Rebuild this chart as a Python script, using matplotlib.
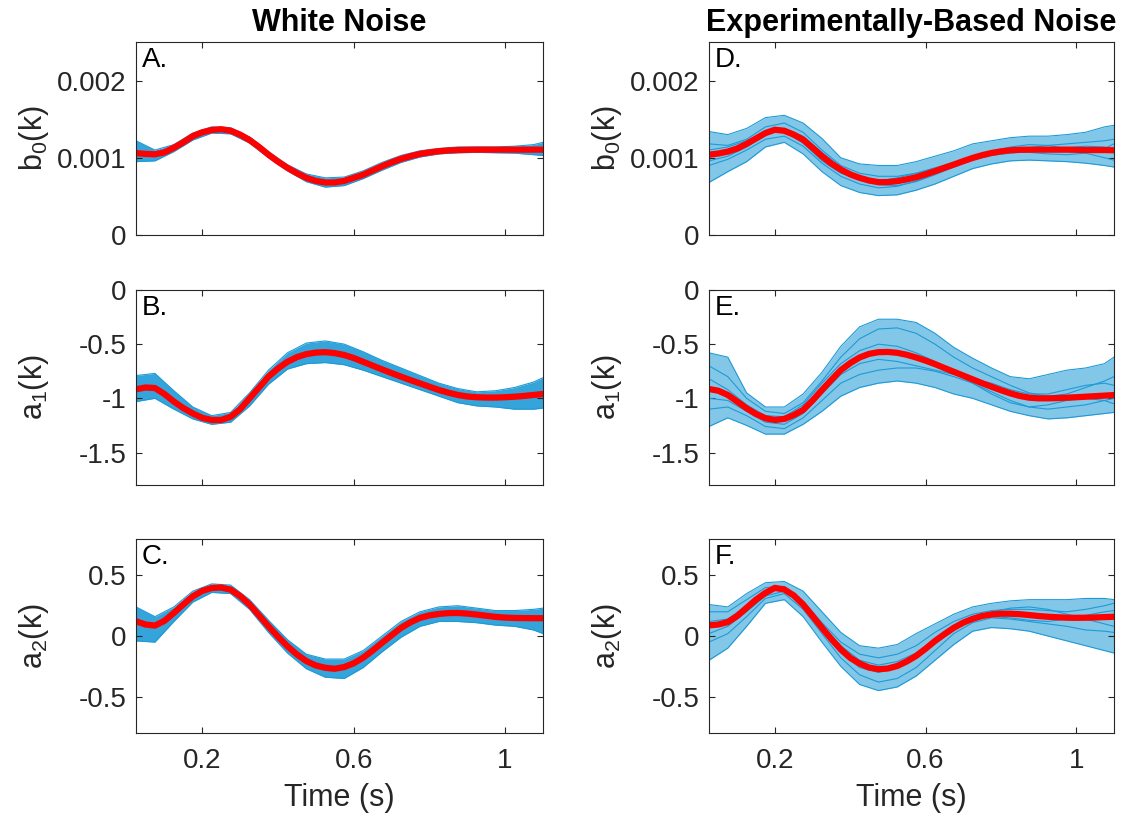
import numpy as np
import matplotlib
matplotlib.use("Agg")
import matplotlib.pyplot as plt

plt.rcParams['font.family'] = ['Liberation Sans', 'DejaVu Sans']
plt.rcParams['mathtext.fontset'] = 'custom'
plt.rcParams['mathtext.rm'] = 'Liberation Sans'
plt.rcParams['mathtext.it'] = 'Liberation Sans:italic'
plt.rcParams['mathtext.default'] = 'regular'
plt.rcParams['axes.unicode_minus'] = False

# coarse time grid (s) for the noisy estimates
t = [0.025, 0.075, 0.125, 0.175, 0.225, 0.275, 0.325, 0.375, 0.425, 0.475, 0.525, 0.575,
     0.625, 0.675, 0.725, 0.775, 0.825, 0.875, 0.925, 0.975, 1.025, 1.075, 1.1]
# fine time grid (s) for the true coefficients
tf = [0.025, 0.05, 0.075, 0.1, 0.125, 0.15, 0.175, 0.2, 0.225, 0.25, 0.275, 0.3,
      0.325, 0.35, 0.375, 0.4, 0.425, 0.45, 0.475, 0.5, 0.525, 0.55, 0.575, 0.6,
      0.625, 0.65, 0.675, 0.7, 0.725, 0.75, 0.775, 0.8, 0.825, 0.85, 0.875, 0.9,
      0.925, 0.95, 0.975, 1.0, 1.025, 1.05, 1.075, 1.1]

# --- White noise ---
# b0 (x1e-3)
a_red = [1.06, 1.05, 1.045, 1.07, 1.13, 1.20, 1.28, 1.33, 1.36, 1.37, 1.35, 1.30,
         1.23, 1.14, 1.04, 0.95, 0.87, 0.80, 0.74, 0.70, 0.68, 0.68, 0.70, 0.74,
         0.78, 0.835, 0.89, 0.94, 0.985, 1.02, 1.05, 1.07, 1.085, 1.095, 1.10, 1.103,
         1.105, 1.105, 1.105, 1.105, 1.105, 1.105, 1.105, 1.105]
a_hi = [1.22, 1.10, 1.17, 1.32, 1.40, 1.39, 1.27, 1.08, 0.91, 0.79, 0.74, 0.75,
        0.83, 0.94, 1.03, 1.09, 1.12, 1.14, 1.14, 1.14, 1.15, 1.17, 1.20]
a_lo = [0.95, 0.96, 1.08, 1.23, 1.32, 1.31, 1.19, 1.00, 0.83, 0.69, 0.62, 0.64,
        0.73, 0.84, 0.94, 1.01, 1.05, 1.065, 1.07, 1.065, 1.06, 1.04, 1.03]
# a1
b_red = [-0.917, -0.900, -0.905, -0.96, -1.03, -1.09, -1.14, -1.18, -1.20, -1.20, -1.17, -1.10,
         -1.00, -0.90, -0.80, -0.725, -0.663, -0.62, -0.592, -0.578, -0.574, -0.583, -0.60, -0.628,
         -0.663, -0.698, -0.733, -0.767, -0.80, -0.832, -0.862, -0.893, -0.923, -0.948, -0.969, -0.983,
         -0.99, -0.993, -0.993, -0.99, -0.985, -0.978, -0.969, -0.96]
b_hi = [-0.79, -0.77, -0.93, -1.08, -1.16, -1.13, -0.95, -0.74, -0.58, -0.49, -0.47, -0.50,
        -0.57, -0.65, -0.72, -0.79, -0.86, -0.91, -0.94, -0.93, -0.90, -0.85, -0.81]
b_lo = [-1.03, -1.00, -1.10, -1.19, -1.24, -1.22, -1.07, -0.87, -0.73, -0.68, -0.67, -0.69,
        -0.74, -0.80, -0.86, -0.92, -0.98, -1.04, -1.07, -1.08, -1.10, -1.10, -1.09]
# a2
c_red = [0.122, 0.095, 0.086, 0.125, 0.19, 0.26, 0.327, 0.372, 0.396, 0.40, 0.382, 0.330,
         0.259, 0.17, 0.08, -0.005, -0.084, -0.152, -0.207, -0.243, -0.262, -0.27, -0.256, -0.225,
         -0.179, -0.12, -0.056, 0.006, 0.067, 0.113, 0.149, 0.17, 0.182, 0.189, 0.19, 0.185,
         0.177, 0.167, 0.158, 0.152, 0.149, 0.148, 0.147, 0.147]
c_hi = [0.24, 0.16, 0.24, 0.37, 0.43, 0.42, 0.30, 0.13, -0.03, -0.15, -0.19, -0.19,
        -0.12, 0.00, 0.12, 0.20, 0.24, 0.25, 0.23, 0.21, 0.21, 0.22, 0.23]
c_lo = [-0.04, -0.05, 0.12, 0.28, 0.36, 0.35, 0.22, 0.03, -0.14, -0.27, -0.34, -0.35,
        -0.26, -0.13, -0.01, 0.08, 0.12, 0.12, 0.11, 0.09, 0.08, 0.05, 0.02]

# --- Experimentally-based noise ---
d_red = [1.04, 1.055, 1.08, 1.12, 1.18, 1.25, 1.32, 1.363, 1.35, 1.30, 1.234, 1.13,
         1.02, 0.925, 0.847, 0.785, 0.74, 0.705, 0.684, 0.685, 0.697, 0.72, 0.748, 0.785,
         0.826, 0.87, 0.912, 0.956, 0.998, 1.033, 1.062, 1.083, 1.097, 1.103, 1.105, 1.105,
         1.105, 1.105, 1.105, 1.103, 1.10, 1.10, 1.10, 1.097]
d_hi = [1.34, 1.30, 1.38, 1.52, 1.55, 1.45, 1.25, 1.00, 0.92, 0.90, 0.90, 0.95,
        1.02, 1.09, 1.18, 1.22, 1.26, 1.28, 1.28, 1.30, 1.33, 1.40, 1.42]
d_lo = [0.68, 0.82, 0.95, 1.14, 1.20, 1.05, 0.82, 0.64, 0.55, 0.51, 0.52, 0.58,
        0.66, 0.76, 0.86, 0.92, 0.96, 0.97, 0.96, 0.95, 0.93, 0.90, 0.88]
d_runs = [
    [1.18, 1.16, 1.24, 1.40, 1.45, 1.33, 1.10, 0.90, 0.80, 0.76, 0.76, 0.80,
     0.86, 0.93, 1.01, 1.06, 1.08, 1.07, 1.05, 1.04, 1.06, 1.12, 1.18],
    [0.90, 0.98, 1.10, 1.24, 1.28, 1.15, 0.93, 0.76, 0.66, 0.61, 0.63, 0.70,
     0.79, 0.88, 0.97, 1.04, 1.09, 1.13, 1.16, 1.18, 1.20, 1.22, 1.24],
    [1.10, 1.14, 1.22, 1.33, 1.34, 1.19, 0.96, 0.80, 0.72, 0.70, 0.74, 0.80,
     0.87, 0.94, 1.01, 1.08, 1.14, 1.17, 1.16, 1.12, 1.06, 1.00, 0.97],
    [0.96, 1.02, 1.14, 1.30, 1.38, 1.28, 1.07, 0.88, 0.74, 0.65, 0.64, 0.69,
     0.78, 0.88, 0.97, 1.03, 1.06, 1.08, 1.10, 1.13, 1.15, 1.14, 1.10],
]
e_red = [-0.914, -0.93, -0.969, -1.03, -1.092, -1.145, -1.184, -1.20, -1.19, -1.155, -1.107, -1.02,
         -0.923, -0.83, -0.74, -0.675, -0.623, -0.59, -0.574, -0.572, -0.58, -0.598, -0.623, -0.652,
         -0.684, -0.72, -0.755, -0.79, -0.825, -0.86, -0.893, -0.925, -0.954, -0.978, -0.994, -1.0,
         -1.0, -0.998, -0.994, -0.99, -0.985, -0.98, -0.975, -0.97]
e_hi = [-0.58, -0.62, -0.95, -1.08, -1.08, -0.96, -0.76, -0.52, -0.34, -0.27, -0.27, -0.30,
        -0.40, -0.53, -0.63, -0.72, -0.80, -0.82, -0.78, -0.74, -0.72, -0.68, -0.62]
e_lo = [-1.26, -1.18, -1.25, -1.33, -1.33, -1.24, -1.12, -0.98, -0.90, -0.86, -0.84, -0.86,
        -0.90, -0.96, -1.00, -1.06, -1.12, -1.16, -1.19, -1.18, -1.16, -1.14, -1.13]
e_runs = [
    [-0.70, -0.80, -1.00, -1.12, -1.14, -1.04, -0.84, -0.62, -0.45, -0.36, -0.35, -0.40,
     -0.50, -0.62, -0.72, -0.80, -0.88, -0.95, -0.98, -0.96, -0.90, -0.84, -0.80],
    [-1.10, -1.08, -1.16, -1.26, -1.28, -1.18, -1.02, -0.86, -0.78, -0.74, -0.72, -0.72,
     -0.75, -0.80, -0.86, -0.94, -1.02, -1.08, -1.10, -1.08, -1.06, -1.02, -1.00],
    [-0.82, -0.92, -1.06, -1.16, -1.17, -1.06, -0.86, -0.68, -0.56, -0.50, -0.52, -0.58,
     -0.66, -0.76, -0.86, -0.96, -1.04, -1.08, -1.06, -1.02, -1.00, -1.02, -1.05],
    [-1.00, -1.02, -1.12, -1.22, -1.24, -1.14, -0.96, -0.78, -0.68, -0.64, -0.66, -0.70,
     -0.74, -0.78, -0.82, -0.86, -0.92, -0.96, -0.96, -0.92, -0.88, -0.86, -0.88],
]
f_red = [0.088, 0.095, 0.115, 0.165, 0.233, 0.30, 0.356, 0.397, 0.384, 0.335, 0.26, 0.165,
         0.068, -0.025, -0.11, -0.18, -0.227, -0.26, -0.274, -0.268, -0.247, -0.21, -0.164, -0.105,
         -0.041, 0.015, 0.068, 0.11, 0.142, 0.165, 0.178, 0.184, 0.184, 0.18, 0.173, 0.165,
         0.159, 0.155, 0.151, 0.15, 0.151, 0.153, 0.156, 0.159]
f_hi = [0.26, 0.24, 0.35, 0.44, 0.45, 0.37, 0.20, 0.03, -0.08, -0.10, -0.07, 0.02,
        0.10, 0.18, 0.24, 0.27, 0.29, 0.30, 0.30, 0.30, 0.31, 0.31, 0.30]
f_lo = [-0.20, -0.10, 0.08, 0.27, 0.30, 0.16, -0.05, -0.25, -0.40, -0.45, -0.42, -0.33,
        -0.20, -0.07, 0.04, 0.07, 0.06, 0.04, 0.00, -0.04, -0.08, -0.12, -0.14]
f_runs = [
    [0.20, 0.20, 0.30, 0.40, 0.41, 0.29, 0.11, -0.05, -0.15, -0.18, -0.15, -0.08,
     0.03, 0.12, 0.18, 0.21, 0.22, 0.22, 0.21, 0.20, 0.22, 0.25, 0.27],
    [-0.05, 0.02, 0.16, 0.31, 0.35, 0.22, 0.02, -0.18, -0.32, -0.38, -0.35, -0.26,
     -0.12, 0.02, 0.11, 0.15, 0.14, 0.12, 0.10, 0.08, 0.05, 0.04, 0.03],
    [0.12, 0.14, 0.25, 0.37, 0.39, 0.25, 0.04, -0.14, -0.26, -0.30, -0.26, -0.17,
     -0.06, 0.05, 0.14, 0.20, 0.23, 0.24, 0.22, 0.18, 0.14, 0.10, 0.08],
    [0.02, 0.08, 0.20, 0.33, 0.37, 0.27, 0.09, -0.08, -0.20, -0.24, -0.21, -0.14,
     -0.03, 0.08, 0.15, 0.16, 0.15, 0.13, 0.12, 0.14, 0.17, 0.20, 0.21],
]

ylabels = [r'b$_0$(k)', r'a$_1$(k)', r'a$_2$(k)']
ylims = [(0, 0.0025), (-1.8, 0), (-0.8, 0.8)]
yticks = [[0, 0.001, 0.002], [-1.5, -1, -0.5, 0], [-0.5, 0, 0.5]]
yticklabels = [['0', '0.001', '0.002'], ['-1.5', '-1', '-0.5', '0'], ['-0.5', '0', '0.5']]
xticks = [0.2, 0.6, 1]
xticklabels = ['0.2', '0.6', '1']
titles = ['White Noise', 'Experimentally-Based Noise']
letters = [['A.', 'B.', 'C.'], ['D.', 'E.', 'F.']]

scale = [1e-3, 1, 1]
panels = [
    [(a_red, a_hi, a_lo, []), (b_red, b_hi, b_lo, []), (c_red, c_hi, c_lo, [])],
    [(d_red, d_hi, d_lo, d_runs), (e_red, e_hi, e_lo, e_runs), (f_red, f_hi, f_lo, f_runs)],
]

blue = '#1e9ad6'
dark = '#262626'

fig = plt.figure(figsize=(11.23, 8.15), dpi=100)
lefts = [0.1211, 0.6313]
widths = [0.3624, 0.3606]
bottoms = [0.7117, 0.4049, 0.1006]
heights = [0.2368, 0.2393, 0.2380]

for col in range(2):
    for row in range(3):
        ax = fig.add_axes([lefts[col], bottoms[row], widths[col], heights[row]])
        red, hi, lo, runs = panels[col][row]
        s = scale[row]
        hi = np.array(hi) * s
        lo = np.array(lo) * s
        # spread of the estimates
        ax.fill_between(t, lo, hi, color=blue, lw=0, alpha=0.9 if col == 0 else 0.55)
        ax.plot(t, hi, color=blue, lw=0.8, solid_joinstyle='round')
        ax.plot(t, lo, color=blue, lw=0.8, solid_joinstyle='round')
        for r in runs:
            ax.plot(t, np.array(r) * s, color=blue, lw=0.8, solid_joinstyle='round')
        # true coefficient
        ax.plot(tf, np.array(red) * s, color='red', lw=4.5, solid_joinstyle='round')

        ax.set_xlim(0.025, 1.1)
        ax.set_ylim(*ylims[row])
        ax.set_yticks(yticks[row])
        ax.set_yticklabels(yticklabels[row])
        ax.set_xticks(xticks)
        if row == 2:
            ax.set_xticklabels(xticklabels)
            ax.set_xlabel('Time (s)', fontsize=22, color=dark, labelpad=6)
        else:
            ax.set_xticklabels([])
        ax.tick_params(direction='in', length=4, width=0.8, top=True, right=True,
                       labelsize=20, colors=dark)
        ax.tick_params(axis='x', pad=11)
        ax.tick_params(axis='y', pad=7)
        for sp in ax.spines.values():
            sp.set_color(dark)
            sp.set_linewidth(0.8)
        ax.set_ylabel(ylabels[row], fontsize=22, color=dark)
        ax.yaxis.set_label_coords(-0.21, 0.5)
        ax.text(0.014, 0.975, letters[col][row], transform=ax.transAxes,
                fontsize=20, va='top', ha='left', color='black')
        if row == 0:
            ax.set_title(titles[col], fontsize=22, fontweight='bold', pad=8)

fig.savefig('out.png', dpi=100)
